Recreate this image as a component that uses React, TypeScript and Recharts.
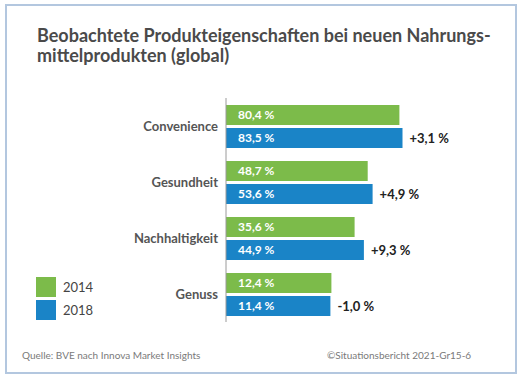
import React from "react";
import { BarChart, Bar, XAxis, YAxis, LabelList, Legend } from "recharts";

const categories = ["Convenience", "Gesundheit", "Nachhaltigkeit", "Genuss"];
const share2014 = [80.4, 48.7, 35.6, 12.4];
const share2018 = [83.5, 53.6, 44.9, 11.4];
const change = [3.1, 4.9, 9.3, -1.0];
const years = ["2014", "2018"];

const GREEN = "#7cbb4a";
const BLUE = "#1a84c7";
const FONT = "Lato, 'Open Sans', sans-serif";
// the original bars are not drawn to scale, they all grow out of this value
const BASE = -93;

const data = categories.map((name, i) => ({
  name,
  v2014: share2014[i],
  v2018: share2018[i],
  change: change[i],
}));

const pct = (v: number) => v.toFixed(1).replace(".", ",") + " %";
const signed = (v: number) => (v > 0 ? "+" : "") + pct(v);

const LegendBox = ({ payload }: any) => (
  <div style={{ fontFamily: FONT, fontSize: 13, color: "#444" }}>
    {(payload || []).map((p: any) => (
      <div key={p.value} style={{ display: "flex", alignItems: "center", height: 23 }}>
        <span style={{ width: 20, height: 20, background: p.color, marginRight: 7 }} />
        <span>{p.value}</span>
      </div>
    ))}
  </div>
);

export default function App() {
  return (
    <div
      style={{
        position: "absolute",
        left: 0,
        top: 0,
        width: 525,
        height: 382,
        background: "#fff",
        fontFamily: FONT,
      }}
    >
      <div
        style={{
          position: "absolute",
          left: 5,
          top: 4,
          width: 512,
          height: 370,
          boxSizing: "border-box",
          border: "2px solid #b3c7df",
        }}
      />
      <div
        style={{
          position: "absolute",
          left: 37,
          top: 25,
          fontSize: 18,
          lineHeight: "20px",
          fontWeight: 700,
          color: "#4a4a4a",
          whiteSpace: "nowrap",
        }}
      >
        Beobachtete Produkteigenschaften bei neuen Nahrungs-
        <br />
        mittelprodukten (global)
      </div>

      <div style={{ position: "absolute", left: 0, top: 0 }}>
        <BarChart
          width={525}
          height={382}
          data={data}
          layout="vertical"
          margin={{ top: 98, right: 94, bottom: 60, left: 0 }}
          barSize={20}
          barGap={3}
        >
          <XAxis type="number" hide domain={[BASE, 112]} />
          <YAxis
            type="category"
            dataKey="name"
            width={226}
            tickLine={false}
            tickSize={0}
            tickMargin={8}
            axisLine={{ stroke: "#9a9a9a" }}
            tick={{ fill: "#555", fontSize: 13, fontWeight: 700, fontFamily: FONT }}
          />
          <Legend
            layout="vertical"
            align="center"
            verticalAlign="middle"
            content={<LegendBox />}
            wrapperStyle={{ left: 36, top: 275, width: 80 }}
          />
          <Bar
            dataKey={(d: any) => [BASE, d.v2014]}
            name={years[0]}
            fill={GREEN}
            isAnimationActive={false}
          >
            <LabelList
              dataKey="v2014"
              position="insideLeft"
              offset={12}
              formatter={(v: any) => pct(v)}
              fill="#fff"
              fontSize={12}
              fontWeight={700}
              fontFamily={FONT}
            />
          </Bar>
          <Bar
            dataKey={(d: any) => [BASE, d.v2018]}
            name={years[1]}
            fill={BLUE}
            isAnimationActive={false}
          >
            <LabelList
              dataKey="v2018"
              position="insideLeft"
              offset={12}
              formatter={(v: any) => pct(v)}
              fill="#fff"
              fontSize={12}
              fontWeight={700}
              fontFamily={FONT}
            />
            <LabelList
              dataKey="change"
              position="right"
              offset={7}
              formatter={(v: any) => signed(v)}
              fill="#222"
              fontSize={13}
              fontWeight={700}
              fontFamily={FONT}
            />
          </Bar>
        </BarChart>
      </div>

      <div
        style={{
          position: "absolute",
          left: 22,
          top: 349,
          fontSize: 10,
          color: "#7a7a7a",
          whiteSpace: "nowrap",
        }}
      >
        Quelle: BVE nach Innova Market Insights
      </div>
      <div
        style={{
          position: "absolute",
          left: 327,
          top: 349,
          fontSize: 10,
          color: "#7a7a7a",
          whiteSpace: "nowrap",
        }}
      >
        ©Situationsbericht 2021-Gr15-6
      </div>
    </div>
  );
}
